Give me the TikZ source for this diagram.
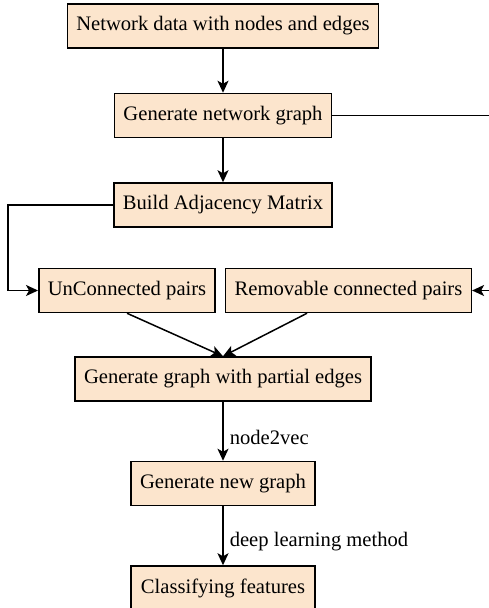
\documentclass[tikz,border=0pt]{standalone}
\usepackage{fontspec}
\setmainfont{Liberation Serif}
\usetikzlibrary{arrows.meta, positioning}
\definecolor{peach}{RGB}{252,229,205}
\tikzstyle{block} = [rectangle, draw, line width=0.75pt, fill=peach,
     minimum height=22pt, inner xsep=4.5pt, font=\fontsize{10.3}{12}\selectfont]
\tikzstyle{arrow} = [line width=0.75pt, -{Stealth[length=6pt,width=5.5pt,inset=1.5pt]}]
\tikzstyle{lbl} = [right, inner xsep=3pt, font=\fontsize{10.3}{12}\selectfont]

\begin{document}
\begin{tikzpicture}[x=0.5pt, y=-0.5pt]
     \useasboundingbox (0,0) rectangle (488,608);
     % Nodes
     \node [block] (data) at (223,26) {Network data with nodes and edges};
     \node [block, below=22pt of data] (gen) {Generate network graph};
     \node [block, below=22pt of gen] (adj) {Build Adjacency Matrix};
     \node [block] (unconn) at (127,290.5) {UnConnected pairs};
     \node [block] (remov) at (348.5,290.5) {Removable connected pairs};
     \node [block] (partial) at (223,379) {Generate graph with partial edges};
     \node [block, below=29.5pt of partial, minimum width=92pt] (newg) {Generate new graph};
     \node [block, below=29.5pt of newg, minimum width=92pt] (classif) {Classifying features};
     \coordinate (lcorner) at (8,0);
     \coordinate (rcorner) at (490,0);
     \coordinate (remfoot) at (307,0);

     % Arrows
     \draw [arrow] (data) -- (gen);
     \draw [arrow] (gen) -- (adj);
     \draw [arrow] (adj.west) -- (adj.west -| lcorner) |- (unconn.west);
     \draw [arrow] (gen.east) -- (gen.east -| rcorner) |- (remov.east);
     \draw [arrow] (unconn.south) -- (partial.north);
     \draw [arrow] (remov.south -| remfoot) -- (partial.north);
     \draw [arrow] (partial) -- node [lbl, pos=0.6] (lvec) {node2vec} (newg);
     \draw [arrow] (newg) -- node [lbl, pos=0.6] (ldeep) {deep learning method} (classif);
\end{tikzpicture}
\end{document}
